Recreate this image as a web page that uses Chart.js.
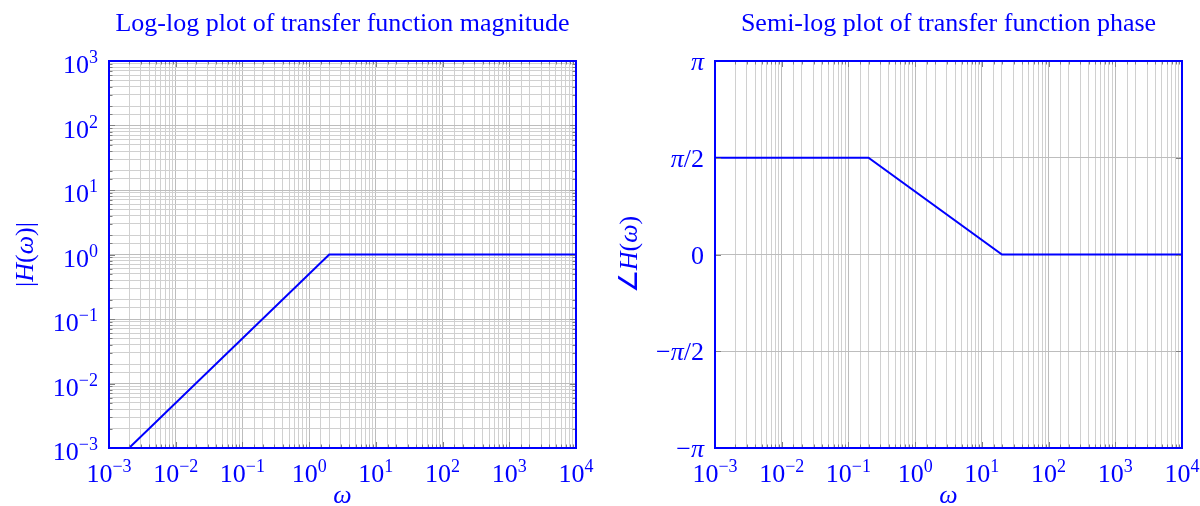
<!DOCTYPE html>
<html>
<head>
<meta charset="utf-8">
<script src="https://cdn.jsdelivr.net/npm/chart.js@4.4.0/dist/chart.umd.min.js"></script>
<style>
  body { margin: 0; background: #fff; }
  .wrap { display: flex; width: 1200px; height: 506px; }
  .cell { width: 600px; height: 506px; }
</style>
</head>
<body>
<div class="wrap">
  <div class="cell"><canvas id="mag" width="600" height="506"></canvas></div>
  <div class="cell"><canvas id="phase" width="600" height="506"></canvas></div>
</div>
<script>
// data
const magOmega = [0.002, 2, 10000];
const magValues = [0.001, 1, 1];
const phaseOmega = [0.001, 0.2, 20, 10000];
const phaseValues = [Math.PI / 2, Math.PI / 2, 0, 0];

const xExponents = [-3, -2, -1, 0, 1, 2, 3, 4];
const magExponents = [-3, -2, -1, 0, 1, 2, 3];
const phaseTicks = [-Math.PI, -Math.PI / 2, 0, Math.PI / 2, Math.PI];
const phaseTickLabels = [
  [['−', false], ['π', true]],
  [['−', false], ['π', true], ['/2', false]],
  [['0', false]],
  [['π', true], ['/2', false]],
  [['π', true]],
];

const BLUE = '#0000ff';
const SERIF = '"Liberation Serif", "Times New Roman", serif';
const FS = 26;

function isDecade(v) {
  const l = Math.log10(v);
  return Math.abs(l - Math.round(l)) < 1e-9;
}

// draw a run of text pieces [text, italic, size, dy]
function drawRuns(ctx, runs, x, y, align) {
  let total = 0;
  runs.forEach(r => {
    ctx.font = (r[1] ? 'italic ' : '') + (r[2] || FS) + 'px ' + SERIF;
    total += ctx.measureText(r[0]).width;
  });
  let cx = align === 'right' ? x - total : align === 'center' ? x - total / 2 : x;
  ctx.textAlign = 'left';
  ctx.textBaseline = 'alphabetic';
  runs.forEach(r => {
    ctx.font = (r[1] ? 'italic ' : '') + (r[2] || FS) + 'px ' + SERIF;
    ctx.fillText(r[0], cx, y + (r[3] || 0));
    cx += ctx.measureText(r[0]).width;
  });
}

function powerLabel(e) {
  return [['10', false, FS], [e < 0 ? '−' + (-e) : String(e), false, 18, -10]];
}

function decoPlugin(opts) {
  return {
    id: 'deco',
    afterDatasetsDraw(chart) {
      const ctx = chart.ctx;
      const a = chart.chartArea;
      const xs = chart.scales.x, ys = chart.scales.y;
      ctx.save();
      // inward tick marks
      ctx.strokeStyle = '#808080';
      ctx.lineWidth = 1;
      xs.ticks.forEach(t => {
        const px = Math.round(xs.getPixelForValue(t.value)) + 0.5;
        const len = isDecade(t.value) ? 6 : 3.5;
        ctx.beginPath();
        ctx.moveTo(px, a.bottom); ctx.lineTo(px, a.bottom - len);
        ctx.moveTo(px, a.top); ctx.lineTo(px, a.top + len);
        ctx.stroke();
      });
      ys.ticks.forEach(t => {
        const py = Math.round(ys.getPixelForValue(t.value)) + 0.5;
        const len = opts.logY ? (isDecade(t.value) ? 6 : 3.5) : 6;
        ctx.beginPath();
        ctx.moveTo(a.left, py); ctx.lineTo(a.left + len, py);
        ctx.moveTo(a.right, py); ctx.lineTo(a.right - len, py);
        ctx.stroke();
      });
      // axis box
      ctx.strokeStyle = BLUE;
      ctx.lineWidth = 2;
      ctx.strokeRect(a.left, a.top, a.right - a.left, a.bottom - a.top);
      ctx.restore();
    },
    afterDraw(chart) {
      const ctx = chart.ctx;
      const a = chart.chartArea;
      const xs = chart.scales.x, ys = chart.scales.y;
      ctx.save();
      ctx.fillStyle = BLUE;
      // title
      drawRuns(ctx, [[opts.title, false, 26]], (a.left + a.right) / 2, 31, 'center');
      // x tick labels
      xExponents.forEach(e => {
        drawRuns(ctx, powerLabel(e), xs.getPixelForValue(Math.pow(10, e)), a.bottom + 34, 'center');
      });
      // y tick labels
      if (opts.logY) {
        magExponents.forEach(e => {
          drawRuns(ctx, powerLabel(e), a.left - 11, ys.getPixelForValue(Math.pow(10, e)) + 12, 'right');
        });
      } else {
        phaseTicks.forEach((v, i) => {
          const runs = phaseTickLabels[i].map(p => [p[0], p[1], FS]);
          drawRuns(ctx, runs, a.left - 11, ys.getPixelForValue(v) + 9, 'right');
        });
      }
      // x title
      drawRuns(ctx, [['ω', true, FS]], (a.left + a.right) / 2, 503, 'center');
      // y title, rotated
      ctx.translate(opts.yTitleX, (a.top + a.bottom) / 2);
      ctx.rotate(-Math.PI / 2);
      drawRuns(ctx, opts.yTitle, 0, 9, 'center');
      ctx.restore();
    }
  };
}

function gridColor(c) {
  if (!c.tick) return '#d0d0d0';
  return isDecade(c.tick.value) ? '#bdbdbd' : '#d0d0d0';
}

function makeChart(id, omega, values, opts) {
  const yScale = opts.logY ? {
    type: 'logarithmic',
    min: 0.001,
    max: 1000,
    ticks: { display: false, autoSkip: false },
    grid: { color: gridColor, drawTicks: false, tickLength: 0 },
    border: { display: false },
    afterFit: s => { s.width = opts.yWidth; }
  } : {
    type: 'linear',
    min: -Math.PI,
    max: Math.PI,
    afterBuildTicks: s => { s.ticks = phaseTicks.map(v => ({ value: v })); },
    ticks: { display: false, autoSkip: false },
    grid: { color: '#bdbdbd', drawTicks: false, tickLength: 0 },
    border: { display: false },
    afterFit: s => { s.width = opts.yWidth; }
  };

  return new Chart(document.getElementById(id).getContext('2d'), {
    type: 'line',
    data: {
      datasets: [{
        data: omega.map((w, i) => ({ x: w, y: values[i] })),
        borderColor: BLUE,
        borderWidth: 2,
        pointRadius: 0,
        fill: false,
        tension: 0,
      }]
    },
    options: {
      responsive: false,
      animation: false,
      layout: { padding: { top: 61, right: opts.padRight, left: 0, bottom: 0 } },
      plugins: { legend: { display: false }, tooltip: { enabled: false }, title: { display: false } },
      scales: {
        x: {
          type: 'logarithmic',
          min: 0.001,
          max: 10000,
          ticks: { display: false, autoSkip: false },
          grid: { color: gridColor, drawTicks: false, tickLength: 0 },
          border: { display: false },
          afterFit: s => { s.height = 58; }
        },
        y: yScale
      }
    },
    plugins: [decoPlugin(opts)]
  });
}

makeChart('mag', magOmega, magValues, {
  logY: true,
  yWidth: 109,
  padRight: 24,
  title: 'Log-log plot of transfer function magnitude',
  yTitleX: 24,
  yTitle: [['|', false, FS], ['H', true, FS], ['(', false, FS], ['ω', true, FS], [')', false, FS], ['|', false, FS]],
});

makeChart('phase', phaseOmega, phaseValues, {
  logY: false,
  yWidth: 115,
  padRight: 18,
  title: 'Semi-log plot of transfer function phase',
  yTitleX: 28,
  yTitle: [['∠', false, FS], ['H', true, FS], ['(', false, FS], ['ω', true, FS], [')', false, FS]],
});
</script>
</body>
</html>
